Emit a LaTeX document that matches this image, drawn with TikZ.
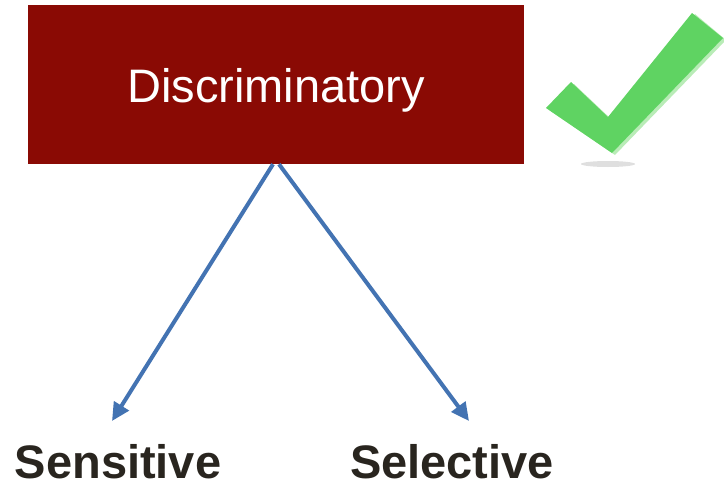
\documentclass[tikz,border=0pt]{standalone}
\usepackage{fontspec}
\setmainfont{Liberation Sans}
\usetikzlibrary{arrows.meta}
\definecolor{boxred}{HTML}{8A0A04}
\definecolor{arrowblue}{HTML}{4373B2}
\definecolor{tickgreen}{HTML}{5FD362}
\definecolor{ticklight}{HTML}{B9ECB7}
\definecolor{labelgray}{HTML}{29251F}

\begin{document}
\begin{tikzpicture}[x=1pt,y=-1pt,
  arrow line/.style={draw=arrowblue,line width=4pt,-{Triangle[length=18pt,width=17pt]}},
  box node/.style={rectangle,fill=boxred,draw=none,text=white,minimum width=496pt,minimum height=159pt,inner sep=0pt,font=\fontsize{47}{50}\selectfont},
  leaf node/.style={anchor=base,inner sep=0pt,text=labelgray,font=\fontsize{47}{50}\selectfont\bfseries}]

  \useasboundingbox (0,0) rectangle (724,483);

  \node[box node] (disc) at (276,84.5) {\raisebox{-18pt}[0pt][0pt]{Discriminatory}};
  \node[leaf node] (sens) at (118,478) {Sensitive};
  \node[leaf node] (sel) at (452,478) {Selective};
  \coordinate (tipL) at (112,421);
  \coordinate (tipR) at (469,421);

  \draw[arrow line] ([xshift=-3pt]disc.south) -- (tipL);
  \draw[arrow line] ([xshift=3pt]disc.south) -- (tipR);

  % tick mark
  \fill[gray!25] (608,164) ellipse (27pt and 3pt);
  \fill[ticklight] (695,14) -- (726,40) -- (615,155) -- (549,110) -- (574,84) -- (611,119) -- cycle;
  \fill[tickgreen] (692,13) -- (723,38) -- (612,153) -- (546,108) -- (571,82) -- (608,117) -- cycle;
\end{tikzpicture}
\end{document}
